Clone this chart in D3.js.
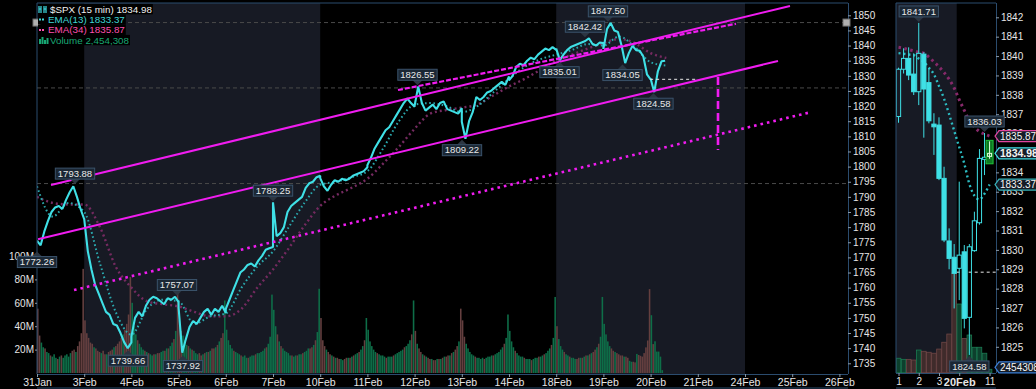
<!DOCTYPE html>
<html>
<head>
<meta charset="utf-8">
<script src="https://cdn.jsdelivr.net/npm/d3@7"></script>
<style>
  html, body { margin: 0; padding: 0; background: #000; }
  svg { display: block; font-family: "Liberation Sans", Arial, sans-serif; }
</style>
</head>
<body>
<svg id="chart" width="1036" height="389"></svg>
<script>
// ---------------- data ----------------
const dates = ["31Jan","3Feb","4Feb","5Feb","6Feb","7Feb","10Feb","11Feb","12Feb","13Feb",
               "14Feb","18Feb","19Feb","20Feb","21Feb","24Feb","25Feb","26Feb"];

// minutes after the open for each price point (open, then half-hour closes)
const priceMinutes = [0,30,60,90,120,150,180,210,240,270,300,330,360,390];

// SPX 15 min, sampled every half hour, one row per session
const prices = [
  [1775.5,1774,1778.5,1782,1785,1786.5,1787,1786,1789,1791.5,1793.5,1790,1786,1782.6],
  [1782.7,1772,1766,1761,1758,1755,1752,1751,1748,1747.5,1745,1742,1740,1741.9],
  [1743.8,1750,1752,1750.5,1754,1756,1757,1756.5,1755.5,1754.5,1756.5,1756,1757,1755.2],
  [1753.4,1738.5,1743,1747,1749,1748,1750,1752,1753,1751,1753,1752,1754,1751.6],
  [1753,1756,1759,1762,1765,1766,1767.5,1768,1767,1769,1770.5,1772.5,1773,1773.4],
  [1788.2,1777,1778,1780,1785,1787,1788,1789,1790,1793,1794.5,1795,1796.5,1797],
  [1796.2,1793.5,1792,1794,1795.5,1795,1796,1795.5,1796,1797,1797.5,1798,1798.5,1799.8],
  [1800.5,1803,1806,1808,1810,1812,1813,1815,1817,1819,1821,1822.5,1821,1819.8],
  [1820.1,1826.5,1821,1818.5,1819.5,1820.5,1819,1821,1821.5,1819,1818.5,1818,1817.5,1819.3],
  [1814.8,1809.2,1815,1818,1823,1822,1823,1824.5,1825,1826,1827,1828,1827,1829.8],
  [1828.5,1830,1833,1834,1833.5,1835,1836,1835.5,1837,1838,1839,1838.5,1839.5,1838.6],
  [1839,1835.2,1837,1838.5,1839.5,1840,1840.5,1841,1841.5,1842.4,1840.5,1840,1841,1840.8],
  [1838.9,1845.5,1847.5,1845,1844.5,1840,1834.2,1837.5,1839.9,1838.5,1838.3,1836.4,1830.5,1828.8],
  [1829.1,1824.6,1831.5,1834.8,1835.0]
];

// EMA readings: three per session (open, +130 min, +260 min)
const emaMinutes = [0,130,260];
const ema13 = [
  [1793.5,1783.5,1788],[1785,1768,1752],[1744.5,1753,1756],[1755.5,1748,1750.5],
  [1751.5,1760,1767],[1772,1780,1788],[1794,1795,1796.5],[1798.5,1806,1815],
  [1820.5,1821,1820],[1818,1820,1824.5],[1829,1833,1835.5],[1837,1838.5,1840.5],
  [1840,1843,1839.5],[1834.5,1833.4]
];
const ema34 = [
  [1790,1788,1787.5],[1787.5,1780,1767],[1760,1755.5,1754.5],[1753.8,1752,1750.5],
  [1750.5,1753,1760],[1766,1773,1780.5],[1787,1790.5,1793],[1796,1801,1806.5],
  [1812.5,1817.5,1818.7],[1819.5,1820.5,1823.5],[1826.5,1829,1832],[1835,1837,1839],
  [1840.8,1842.2,1840.8],[1837.5,1835.9]
];

// volume per 15 min bar, millions
const volume = [
  [55,32,26,22,21,18,17,15,14,16,13,12,14,15,13,15,16,14,17,19,20,18,23,27,34,89],
  [45,34,30,26,25,22,21,19,18,17,19,16,16,18,19,20,22,23,25,27,30,33,37,42,50,82],
  [60,40,33,28,25,22,20,19,18,17,16,15,16,16,17,17,18,19,19,21,21,23,26,29,36,71],
  [45,36,32,28,24,23,21,20,19,17,16,17,15,16,17,18,18,19,21,21,22,24,27,30,34,62],
  [37,28,24,21,19,18,17,16,15,14,15,13,13,14,15,15,16,17,17,18,19,21,22,25,31,67],
  [54,40,33,27,23,21,19,18,17,15,15,14,15,15,16,16,17,18,19,21,21,22,24,28,35,72],
  [47,28,23,20,18,16,15,14,13,13,12,12,11,12,13,13,13,14,15,16,17,18,20,23,28,47],
  [37,27,23,20,18,17,16,15,15,14,13,14,14,14,15,16,17,18,19,20,22,23,25,28,33,62],
  [36,25,21,18,16,15,14,13,12,12,11,11,12,12,12,13,14,14,15,15,17,18,20,23,27,55],
  [45,31,25,21,18,16,15,14,13,13,12,13,12,13,14,14,15,15,16,17,18,20,22,25,30,50],
  [36,27,22,19,17,15,14,14,13,12,12,12,11,12,13,13,14,14,15,16,17,19,21,24,30,65],
  [40,29,23,20,18,16,15,14,13,13,12,12,13,13,13,14,15,15,16,17,18,20,22,25,31,65],
  [42,33,27,23,21,19,18,17,16,15,15,14,14,13,10.4,9.6,9.6,9.1,16.3,15.4,14.7,14,17,21.9,27.8,71.7],
  [49.4,24.7,27.1,18.3,18.3,14,2.45]
];
// bar direction per 15 min bar: g = up, r = down
const volumeDir = [
  "rrggrggrgggrgrgggggrrgrrrr","rrrrrgrrrgrrgrrrgrrrrgrrrr","gggrgggrgrggrgrrggrgrggrgr",
  "rrgggrgrgggrrgrgrgrrgrgrrg","ggggrgggrgggrgggrgggggrggg","ggrgrgggggrggrggrgggrrgrgg",
  "rrrgrrgrgrrggrrgrgrggrggrg","gggggrggggrgggrgggggrgggrg","rgrrgrgrrgrrgrgrgrrgrgrrgr",
  "rrgggggrggggrggggrgggggrgg","gggrggggrgggrgggrggrgggrgg","rgggrggrgggrrgrgrgrgrrgrgg",
  "ggggrrgrrrrgrrggrrgrrrrrrr","grggggg"
];

// labelled swing highs / lows: value, session position, kind
const calloutValues = [1772.26,1793.88,1739.66,1757.07,1737.92,1788.25,1826.55,1809.22,1835.01,1842.42,1847.50,1834.05,1824.58];
const calloutDays   = [0.0,0.805,1.928,2.966,3.093,5.0,8.061,9.004,11.07,11.61,12.097,12.405,13.06];
const calloutKinds  = ["low","high","low","high","low","high","high","low","low","high","high","low","low"];

// drawn trend lines [[day, price], [day, price]]
const channelTop    = [[0.297,1793.9],[15.953,1853.1]];
const channelBottom = [[0.021,1776.0],[15.699,1834.9]];
const dottedLine    = [[0.784,1759.2],[16.398,1818.0]];
const dashedLine    = [[7.648,1825.3],[14.809,1847.2]];
const measureLine   = [[14.428,1829.6],[14.428,1805.5]];
const closeRay      = [[12.99,1828.85],[14.0,1828.85]];
const levelLines    = [1847.6,1826.0,1794.4];

// right panel: 15 min candles, 19Feb 1pm .. 20Feb 11am
const rOpen  = [1836.88,1839.32,1839.88,1839.07,1838.16,1840.1,1838.63,1836.49,1836.44,1833.69,1830.46,1829.62,1829.05,1829.9,1826.52,1829.96,1831.4,1834.67,1834.78];
const rHigh  = [1839.4,1840.4,1840.45,1840.14,1841.71,1840.2,1839.37,1837.05,1836.84,1834.29,1831.11,1830.3,1833.52,1830.25,1830.3,1831.97,1835.2,1836.03,1835.6];
const rLow   = [1836.56,1839.1,1838.76,1837.99,1837.47,1835.79,1836.53,1834.9,1833.6,1830.4,1829.0,1826.98,1827.41,1825.95,1824.58,1829.9,1831.3,1833.86,1834.7];
const rClose = [1839.32,1839.88,1839.02,1838.16,1840.14,1838.3,1836.66,1836.35,1833.69,1830.51,1829.56,1828.79,1829.73,1826.47,1830.16,1831.5,1834.72,1834.78,1834.98];
const rVolume = [10.4,9.6,9.6,9.1,16.3,15.4,14.7,14.0,17.0,21.9,27.8,71.7,49.4,24.7,27.1,18.3,18.3,14.0,2.45];
const rEma13 = [1840.15,1840.12,1840.08,1840.05,1839.87,1839.69,1839.4,1839.05,1838.45,1837.8,1837.0,1836.15,1835.3,1834.45,1833.4,1832.8,1832.6,1832.9,1833.37];
const rEma34 = [1840.45,1840.4,1840.33,1840.27,1840.2,1840.15,1839.95,1839.7,1839.45,1839.15,1838.8,1838.35,1837.75,1837.2,1836.65,1836.35,1836.1,1835.97,1835.87];
const rTickIdx = [0,4,8,12,18];
const rTickText = ["1","2","3","20Feb","11"];
const rCallouts = [[4,1841.71,"high"],[17,1836.03,"high"],[14,1824.58,"low"]];

const lastClose = 1834.98, lastEma13 = 1833.37, lastEma34 = 1835.87, lastVolume = 2454308;

// ---------------- layout ----------------
const W = 1036, H = 389;
const mainBox = {left: 37, right: 848, top: 3, bottom: 374};
const rightBox = {left: 896, right: 996, top: 3, bottom: 373};
const cyan = "#3fe0e6", magenta = "#f01cf0", frame = "#2b4c6e";

const x = d3.scaleLinear().domain([0, 17]).range([37, 839.4]);
const y = d3.scaleLinear().domain([1735, 1850]).range([363.3, 15.3]);
const yVol = d3.scaleLinear().domain([0, 100]).range([373, 256]);

const xR = d3.scaleLinear().domain([-0.5, 19.27]).range([896, 996]);
const yR = d3.scaleLinear().domain([1825, 1842]).range([346.8, 17.3]);
const yVolR = d3.scaleLinear().domain([0, 100]).range([372.7, 233.7]);

const svg = d3.select("#chart");
svg.append("rect").attr("width", W).attr("height", H).attr("fill", "#000");

const defs = svg.append("defs");
defs.append("clipPath").attr("id", "clipMain").append("rect")
    .attr("x", mainBox.left).attr("y", mainBox.top)
    .attr("width", mainBox.right - mainBox.left).attr("height", mainBox.bottom - mainBox.top);
defs.append("clipPath").attr("id", "clipRight").append("rect")
    .attr("x", rightBox.left).attr("y", rightBox.top)
    .attr("width", rightBox.right - rightBox.left).attr("height", rightBox.bottom - rightBox.top);

// ---------------- main panel ----------------
const g = svg.append("g").attr("clip-path", "url(#clipMain)");

// alternate week shading
[[1, 6], [11, 15]].forEach(w => {
  g.append("rect")
      .attr("x", x(w[0])).attr("y", mainBox.top)
      .attr("width", x(w[1]) - x(w[0])).attr("height", mainBox.bottom - mainBox.top)
      .attr("fill", "#171a24");
});

// horizontal level lines
g.selectAll(".level")
    .data(levelLines)
  .enter().append("line")
    .attr("x1", mainBox.left).attr("x2", mainBox.right)
    .attr("y1", d => y(d)).attr("y2", d => y(d))
    .attr("stroke", "#4a4a4a").attr("stroke-dasharray", "4,3");

// volume bars
const barStep = x(1 / 26) - x(0);
volume.forEach((day, d) => {
  g.selectAll(".vol" + d)
      .data(day)
    .enter().append("rect")
      .attr("x", (v, j) => x(d + j / 26))
      .attr("y", v => yVol(v))
      .attr("width", barStep - 0.25)
      .attr("height", v => yVol(0) - yVol(v))
      .attr("fill", (v, j) => volumeDir[d][j] === "g" ? "#0e6e48" : "#643f3f");
});

// EMA lines
function emaPoints(rows) {
  const pts = [];
  rows.forEach((row, d) => row.forEach((v, k) => pts.push([d + emaMinutes[k] / 390, v])));
  return pts;
}
const emaLine = d3.line().x(d => x(d[0])).y(d => y(d[1])).curve(d3.curveMonotoneX);
g.append("path").attr("d", emaLine(emaPoints(ema34)))
    .attr("fill", "none").attr("stroke", "#752a60").attr("stroke-width", 2.4)
    .attr("stroke-dasharray", "2,3");
g.append("path").attr("d", emaLine(emaPoints(ema13)))
    .attr("fill", "none").attr("stroke", "#2aa8ad").attr("stroke-width", 2)
    .attr("stroke-dasharray", "1.6,2.6");

// price line
const pricePts = [];
prices.forEach((row, d) => row.forEach((v, k) => pricePts.push([d + priceMinutes[k] / 390, v])));
g.append("path")
    .attr("d", d3.line().x(d => x(d[0])).y(d => y(d[1]))(pricePts))
    .attr("fill", "none").attr("stroke", cyan).attr("stroke-width", 2.1)
    .attr("stroke-linejoin", "bevel");

// trend lines
const tl = d3.line().x(d => x(d[0])).y(d => y(d[1]));
g.append("path").attr("d", tl(channelTop)).attr("stroke", magenta).attr("stroke-width", 2);
g.append("path").attr("d", tl(channelBottom)).attr("stroke", magenta).attr("stroke-width", 2);
g.append("path").attr("d", tl(dottedLine)).attr("stroke", magenta).attr("stroke-width", 2.6)
    .attr("stroke-dasharray", "2.6,4");
g.append("path").attr("d", tl(dashedLine)).attr("stroke", magenta).attr("stroke-width", 2.2)
    .attr("stroke-dasharray", "5,2");
g.append("path").attr("d", tl(measureLine)).attr("stroke", magenta).attr("stroke-width", 2.6)
    .attr("stroke-dasharray", "8,4");
g.append("path").attr("d", tl(closeRay)).attr("stroke", "#e8e8e8").attr("stroke-width", 1)
    .attr("stroke-dasharray", "3,3");

// callout boxes
function callout(parent, px, py, value, kind) {
  const lab = parent.append("g");
  const txt = lab.append("text").text(value.toFixed(2))
      .attr("font-size", 9.5).attr("fill", "#e8e8e8").attr("text-anchor", "middle");
  const tw = txt.node().getComputedTextLength();
  const bh = 11, tri = 5;
  const by = kind === "high" ? py - tri - bh - 1 : py + tri + 1;
  lab.insert("path", "text")
      .attr("d", kind === "high"
        ? `M${px - 5},${py - tri - 1}L${px + 5},${py - tri - 1}L${px},${py - 1}Z`
        : `M${px - 5},${py + tri + 1}L${px + 5},${py + tri + 1}L${px},${py + 1}Z`)
      .attr("fill", "#2c3642");
  lab.insert("rect", "text")
      .attr("x", px - tw / 2 - 2.5).attr("y", by)
      .attr("width", tw + 5).attr("height", bh)
      .attr("fill", "#1b2734").attr("stroke", "#3a526a");
  txt.attr("x", px).attr("y", by + 8.6);
}

// main frame and axes
svg.append("line").attr("x1", mainBox.left).attr("x2", mainBox.right)
    .attr("y1", mainBox.top).attr("y2", mainBox.top).attr("stroke", frame);
svg.append("line").attr("x1", mainBox.left).attr("x2", mainBox.left)
    .attr("y1", mainBox.top).attr("y2", mainBox.bottom).attr("stroke", frame);
svg.append("line").attr("x1", mainBox.left).attr("x2", mainBox.right)
    .attr("y1", 388).attr("y2", 388).attr("stroke", frame);

function styleAxis(sel) {
  sel.selectAll("path.domain").attr("stroke", frame);
  sel.selectAll(".tick line").attr("stroke", "#8a9aaa");
  sel.selectAll(".tick text").attr("fill", "#e6e6e6")
      .attr("font-family", "Liberation Sans, Arial, sans-serif").attr("font-size", 10);
}

svg.append("g")
    .attr("transform", "translate(0," + mainBox.bottom + ")")
    .call(d3.axisBottom(x).tickValues(d3.range(18)).tickFormat(i => dates[i])
      .tickSize(3).tickSizeOuter(0).tickPadding(2))
    .call(styleAxis)
    .call(a => a.selectAll(".tick text").attr("font-size", 10.5))
    .call(a => a.select("path.domain").attr("d", `M${mainBox.left},0.5H${mainBox.right}`));

svg.append("g")
    .attr("transform", "translate(" + mainBox.right + ",0)")
    .call(d3.axisRight(y).tickValues(d3.range(1735, 1851, 5)).tickFormat(d3.format("d"))
      .tickSize(3).tickSizeOuter(0).tickPadding(2))
    .call(styleAxis)
    .call(a => a.select("path.domain").attr("d", `M0.5,${mainBox.top}V${mainBox.bottom}`));

svg.append("g")
    .attr("transform", "translate(" + mainBox.left + ",0)")
    .call(d3.axisLeft(yVol).tickValues([20, 40, 60, 80, 100]).tickFormat(d => d + "M")
      .tickSize(2).tickSizeOuter(0).tickPadding(1))
    .call(styleAxis)
    .call(a => a.select("path.domain").remove());

// swing labels on top of everything in the main panel
const labels = svg.append("g");
calloutValues.forEach((v, i) => callout(labels, x(calloutDays[i]), y(v), v, calloutKinds[i]));

// handles of the top level line
[mainBox.left - 0.5, mainBox.right - 1.5].forEach(hx => {
  svg.append("rect").attr("x", hx - 3.5).attr("y", y(levelLines[0]) - 3.5)
      .attr("width", 7).attr("height", 7).attr("fill", "#b0b0b0").attr("stroke", "#707070");
});

// legend
const legendRows = [
  {text: "$SPX (15 min) " + lastClose.toFixed(2), color: "#f0f0f0"},
  {text: "EMA(13) " + lastEma13.toFixed(2), color: "#3fd6d6"},
  {text: "EMA(34) " + lastEma34.toFixed(2), color: "#ff4fae"},
  {text: "Volume " + d3.format(",")(lastVolume), color: "#18a874"}
];
const legend = svg.append("g");
legendRows.forEach((r, i) => {
  const ry = 4 + i * 10.3;
  const t = legend.append("text").text(r.text)
      .attr("x", i === 0 || i === 3 ? 50 : 48).attr("y", ry + 8.6)
      .attr("font-size", 9.8).attr("fill", r.color);
  const tw = t.node().getComputedTextLength();
  legend.insert("rect", "text").attr("x", 38).attr("y", ry)
      .attr("width", (i === 0 || i === 3 ? 12 : 10) + tw + 1).attr("height", 10.3).attr("fill", "#000");
});
// legend icons
legend.append("path").attr("d", "M39,6v7M41,6v7M39,9h2M44,6v7M46,6v7M44,9h2")
    .attr("stroke", cyan).attr("stroke-width", 1.2);
[[39, 19.5, "#3fd6d6"], [42, 19.5, "#3fd6d6"], [39, 30, "#ff4fae"], [42, 30, "#ff4fae"]]
  .forEach(p => legend.append("rect").attr("x", p[0]).attr("y", p[1] - 1)
      .attr("width", 2).attr("height", 2).attr("fill", p[2]));
[[39, 39, 5], [41.5, 37, 7], [44, 40, 4], [46.5, 38, 6]].forEach(b =>
  legend.append("rect").attr("x", b[0]).attr("y", b[1]).attr("width", 2).attr("height", b[2])
      .attr("fill", "#18a874"));

// ---------------- right panel ----------------
const gr = svg.append("g").attr("clip-path", "url(#clipRight)");
gr.append("rect").attr("x", rightBox.left).attr("y", rightBox.top)
    .attr("width", xR(11.5) - rightBox.left).attr("height", rightBox.bottom - rightBox.top)
    .attr("fill", "#171a24");

const candleW = 4.2;
// volume
gr.selectAll(".rvol")
    .data(rVolume)
  .enter().append("rect")
    .attr("x", (v, i) => xR(i) - 2.3)
    .attr("y", v => yVolR(v))
    .attr("width", 4.6)
    .attr("height", v => yVolR(0) - yVolR(v))
    .attr("fill", (v, i) => rClose[i] >= rOpen[i] ? "#0d402d" : "#3f2b2b")
    .attr("stroke", (v, i) => rClose[i] >= rOpen[i] ? "#1b7a52" : "#6e4646")
    .attr("stroke-width", 0.8);

// 19Feb close ray
gr.append("line").attr("x1", xR(11.5)).attr("x2", rightBox.right)
    .attr("y1", yR(1828.85)).attr("y2", yR(1828.85))
    .attr("stroke", "#e8e8e8").attr("stroke-dasharray", "3,3");

// EMA lines
const rLine = d3.line().x((d, i) => xR(i)).y(d => yR(d)).curve(d3.curveMonotoneX);
gr.append("path").attr("d", rLine(rEma34))
    .attr("fill", "none").attr("stroke", "#86296a").attr("stroke-width", 3)
    .attr("stroke-dasharray", "2.5,3.5");
gr.append("path").attr("d", rLine(rEma13))
    .attr("fill", "none").attr("stroke", "#2cbcc2").attr("stroke-width", 2.4)
    .attr("stroke-dasharray", "2,3");

// candles
rOpen.forEach((o, i) => {
  if (i === rOpen.length - 1) return;
  const c = rClose[i], up = c >= o;
  const top = yR(Math.max(o, c)), bot = yR(Math.min(o, c));
  const cx = xR(i);
  gr.append("line").attr("x1", cx).attr("x2", cx).attr("y1", yR(rHigh[i])).attr("y2", top)
      .attr("stroke", cyan);
  gr.append("line").attr("x1", cx).attr("x2", cx).attr("y1", bot).attr("y2", yR(rLow[i]))
      .attr("stroke", cyan);
  gr.append("rect").attr("x", cx - candleW / 2).attr("y", top)
      .attr("width", candleW).attr("height", Math.max(1, bot - top))
      .attr("fill", up ? "none" : cyan).attr("stroke", cyan).attr("stroke-width", 1);
});
// live bar
{
  const i = rOpen.length - 1, cx = xR(i);
  gr.append("rect").attr("x", cx - 3.5).attr("y", yR(rHigh[i]) - 1)
      .attr("width", 7).attr("height", yR(rLow[i]) - yR(rHigh[i]) + 6)
      .attr("fill", "#0d7a22").attr("stroke", "#21c43c");
  gr.append("line").attr("x1", cx).attr("x2", cx).attr("y1", yR(rHigh[i])).attr("y2", yR(rLow[i]))
      .attr("stroke", "#dfffdf");
  gr.append("rect").attr("x", cx - 2).attr("y", yR(rClose[i])).attr("width", 4).attr("height", 3)
      .attr("fill", "none").attr("stroke", "#dfffdf");
}

// right frame and axes
svg.append("line").attr("x1", rightBox.left).attr("x2", rightBox.right)
    .attr("y1", rightBox.top).attr("y2", rightBox.top).attr("stroke", frame);
svg.append("line").attr("x1", rightBox.left).attr("x2", rightBox.left)
    .attr("y1", rightBox.top).attr("y2", rightBox.bottom).attr("stroke", frame);
svg.append("line").attr("x1", rightBox.left).attr("x2", rightBox.right)
    .attr("y1", 388).attr("y2", 388).attr("stroke", frame);

svg.append("g")
    .attr("transform", "translate(0," + rightBox.bottom + ")")
    .call(d3.axisBottom(xR).tickValues(rTickIdx).tickFormat((d, i) => rTickText[i])
      .tickSize(3).tickSizeOuter(0).tickPadding(2))
    .call(styleAxis)
    .call(a => a.select("path.domain").attr("d", `M${rightBox.left},0.5H${rightBox.right}`))
    .call(a => a.selectAll(".tick text").filter(d => d === 12)
      .attr("font-weight", "bold").attr("font-size", 11));

svg.append("g")
    .attr("transform", "translate(" + rightBox.right + ",0)")
    .call(d3.axisRight(yR).tickValues(d3.range(1824, 1843)).tickFormat(d3.format("d"))
      .tickSize(3).tickSizeOuter(0).tickPadding(2))
    .call(styleAxis)
    .call(a => a.select("path.domain").attr("d", `M0.5,${rightBox.top}V${rightBox.bottom}`));

// right-panel callouts
rCallouts.forEach(c => callout(svg, xR(c[0]), yR(c[1]), c[1], c[2]));

// value flags on the right scale
function flag(py, text, stroke, bold) {
  const x0 = rightBox.right - 1, h = 11;
  svg.append("path")
      .attr("d", `M${x0},${py}L${x0 + 4},${py - h / 2}H${W + 2}V${py + h / 2}H${x0 + 4}Z`)
      .attr("fill", "#151c26").attr("stroke", stroke).attr("stroke-width", 1.2);
  svg.append("text").text(text).attr("x", x0 + 5).attr("y", py + 3.8)
      .attr("font-size", bold ? 10.5 : 10).attr("font-weight", bold ? "bold" : "normal")
      .attr("fill", "#f4f4f4");
}
flag(yR(lastEma34), lastEma34.toFixed(2), "#e2449e", false);
flag(yR(lastClose), lastClose.toFixed(2), cyan, true);
flag(yR(lastEma13), lastEma13.toFixed(2), "#39b2b8", false);
flag(yVolR(lastVolume / 1e6) - 2, String(lastVolume), "#3b7fd6", false);
</script>
</body>
</html>
